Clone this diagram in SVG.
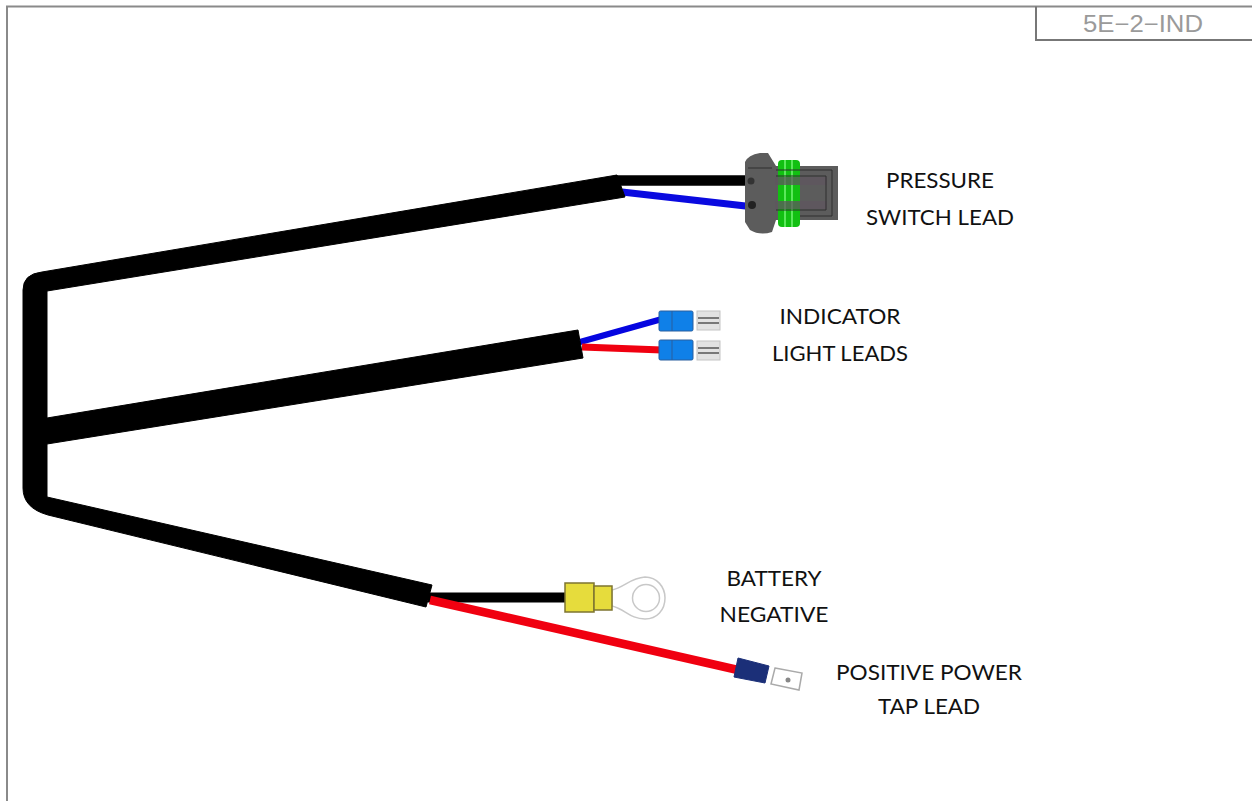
<svg xmlns="http://www.w3.org/2000/svg" width="1252" height="801" viewBox="0 0 1252 801">
<style>
.lbl{font-family:Lato,"Liberation Sans",sans-serif;font-size:21px;fill:#111;text-anchor:middle}
.tag{font-family:"Liberation Sans",sans-serif;font-size:23px;fill:#9a9a9a;text-anchor:middle}
.blk{stroke:#000;fill:none}
.blade{fill:#e2e2e2;stroke:#c4c4c4;stroke-width:1}
.bt{fill:#0f80e8;stroke:#2a5f9e;stroke-width:1}
</style>
<rect width="1252" height="801" fill="#fff"/>
<g id="frame" fill="none" stroke="#8a8a8a" stroke-width="2">
<path d="M7 801V6.500H1252"/>
<path d="M1036 6.500V40H1252" stroke="#777"/>
</g>
<g id="tag"><text class="tag" x="1143" y="32" textLength="120" lengthAdjust="spacingAndGlyphs">5E−2−IND</text></g>
<g id="connectors">
<path d="M615 180.500H750" class="blk" stroke-width="10.500"/>
<path d="M622 192L750 206.500" fill="none" stroke="#0a0ae0" stroke-width="7"/>
<path d="M580 342L662 319" fill="none" stroke="#0505e0" stroke-width="6"/>
<path d="M582 347L662 350" fill="none" stroke="#f00010" stroke-width="7"/>
<path d="M428 597.500H566" class="blk" stroke-width="10"/>
<path d="M430 600L738 670" fill="none" stroke="#f00010" stroke-width="8.500"/>
</g>
<g id="harness">
<path fill="#000" stroke="#000" stroke-width="1" stroke-linejoin="round" d="M617 175L625 197L47 291V418L578 330L583 358L47 444V497L432 585L426 607L48 515Q23 508 23 488V290Q23 274 42 272Z"/>
</g>
<g id="pressure-switch">
<path fill="#5c5c5c" d="M745 162Q748 155 760 153H768L776 166H838V220H776L772 232Q760 236 750 230L745 222V162Z"/>
<rect x="778" y="160" width="22" height="67" rx="4" fill="#12c012"/>
<path d="M785 160V227M792 160V227" stroke="#5be85b" stroke-width="2"/>
<rect x="775" y="177" width="52" height="8" fill="#5f555f" opacity=".75"/>
<rect x="775" y="201" width="52" height="8" fill="#5f555f" opacity=".75"/>
<path d="M748 168H772M776 176H826V210H776M776 170H832V216H800" fill="none" stroke="#2e2e2e" stroke-width="1"/>
<circle cx="751" cy="181" r="3.500" fill="#333"/>
<circle cx="752" cy="205" r="4" fill="#222"/>
</g>
<g id="indicator-blue">
<rect class="bt" x="659" y="311" width="34" height="20" rx="1.500"/>
<path d="M672 311V331" stroke="#2a5f9e"/>
<rect class="blade" x="697" y="311" width="23" height="19"/>
<path d="M698 318H719M698 323H719" stroke="#555" stroke-width="1.500"/>
</g>
<g id="indicator-red">
<rect class="bt" x="659" y="340" width="34" height="20" rx="1.500"/>
<path d="M672 340V360" stroke="#2a5f9e"/>
<rect class="blade" x="697" y="341" width="23" height="19"/>
<path d="M698 348H719M698 353H719" stroke="#555" stroke-width="1.500"/>
</g>
<g id="ring-terminal">
<path d="M612 590C625 587 630 578 645 577C657 577 665 587 665 598C665 610 657 619 645 619C630 619 625 609 612 606Z" fill="#fff" stroke="#c8c8c8" stroke-width="1.500"/>
<circle cx="646" cy="598" r="13.500" fill="#fff" stroke="#c8c8c8" stroke-width="1.500"/>
<rect x="565" y="583" width="29" height="29" fill="#e6dc3c" stroke="#7d7430" stroke-width="1.500"/>
<rect x="594" y="586" width="18" height="24" fill="#e6dc3c" stroke="#7d7430" stroke-width="1.500"/>
</g>
<g id="blade-terminal">
<path d="M738 658L769 666L765 683L734 677Z" fill="#1b2f78" stroke="#1b2f78"/>
<path d="M775 668L802 673L799 690L771 684Z" fill="#fff" stroke="#aaa" stroke-width="1.500"/>
<circle cx="788" cy="680" r="2.500" fill="#888"/>
</g>
<g id="labels">
<text class="lbl" x="940" y="187.500" textLength="108" lengthAdjust="spacingAndGlyphs">PRESSURE</text>
<text class="lbl" x="940" y="224.500" textLength="148" lengthAdjust="spacingAndGlyphs">SWITCH LEAD</text>
<text class="lbl" x="840" y="324" textLength="121" lengthAdjust="spacingAndGlyphs">INDICATOR</text>
<text class="lbl" x="840" y="361" textLength="136" lengthAdjust="spacingAndGlyphs">LIGHT LEADS</text>
<text class="lbl" x="774" y="586" textLength="95" lengthAdjust="spacingAndGlyphs">BATTERY</text>
<text class="lbl" x="774" y="622" textLength="109" lengthAdjust="spacingAndGlyphs">NEGATIVE</text>
<text class="lbl" x="929" y="680" textLength="186" lengthAdjust="spacingAndGlyphs">POSITIVE POWER</text>
<text class="lbl" x="929" y="714" textLength="102" lengthAdjust="spacingAndGlyphs">TAP LEAD</text>
</g>
</svg>
